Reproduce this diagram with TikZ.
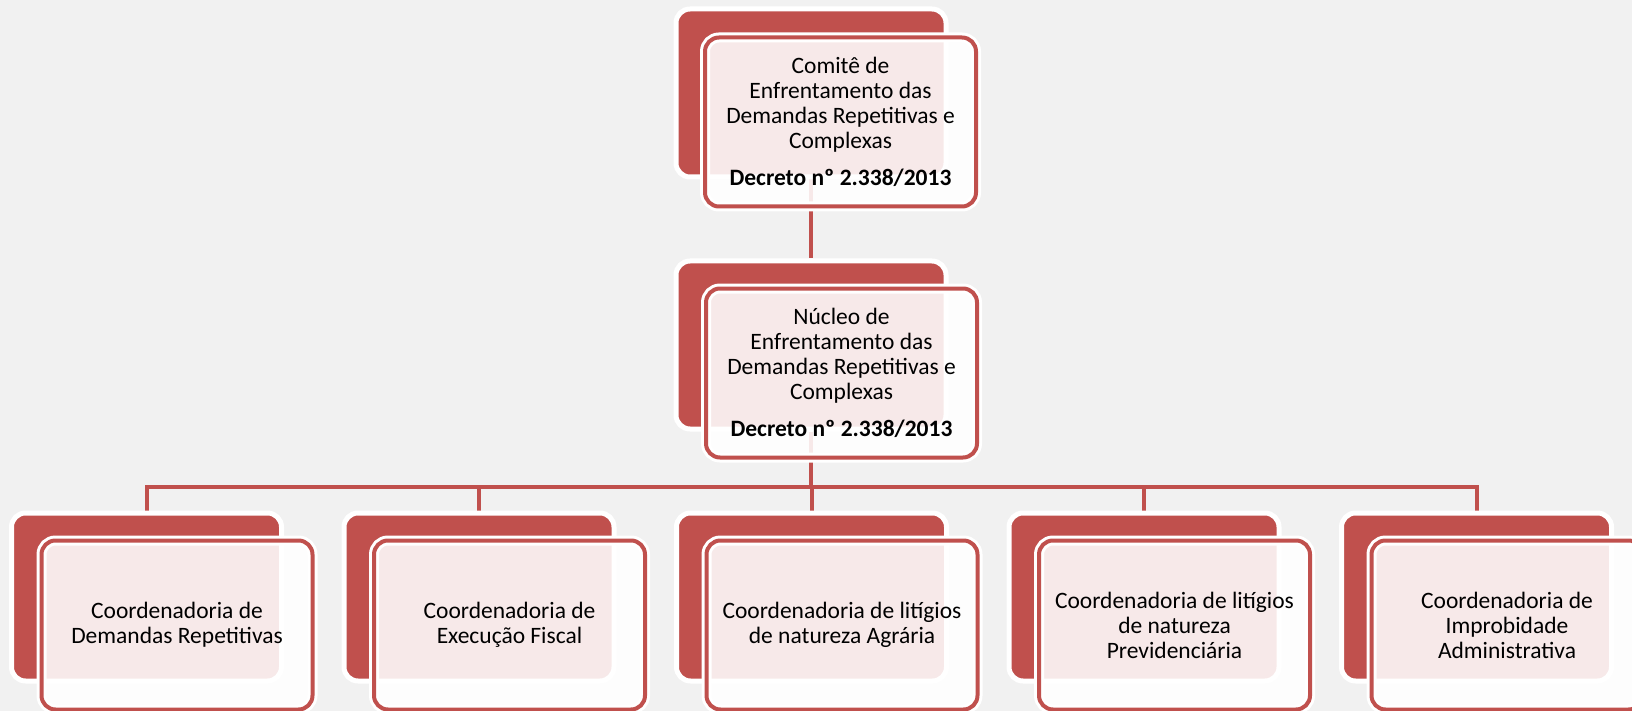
\documentclass[tikz,border=0pt]{standalone}
\usepackage{fontspec}
\setmainfont{Carlito}
\definecolor{redbox}{HTML}{C0504D}
\definecolor{paper}{HTML}{F1F1F1}
\pgfdeclarelayer{background}
\pgfsetlayers{background,main}
\begin{document}
\begin{tikzpicture}[x=1pt,y=-1pt,
  back/.style={rectangle,rounded corners=14pt,fill=redbox,draw=white,line width=5pt,minimum width=270pt,minimum height=168pt},
  front/.style={rectangle,rounded corners=14pt,fill=white,fill opacity=.88,text opacity=1,draw=redbox,line width=4pt,minimum width=271pt,minimum height=169pt,align=center,font=\fontsize{23.5}{25}\selectfont,preaction={draw=white,line width=10pt}},
  link/.style={draw=redbox,line width=4pt}]
\useasboundingbox (0,0) rectangle (1632,711);
\path
(811,93)     node[back] (comiteB) {}
(811,345)    node[back] (nucleoB) {}
(146.5,597)  node[back] (repetB) {}
(479,597)    node[back] (fiscalB) {}
(811.5,597)  node[back] (agrarB) {}
(1144,597)   node[back] (previdB) {}
(1476.5,597) node[back] (improbB) {};
\path
(840.5,122)  node[front] (comite) {Comitê de\\Enfrentamento das\\Demandas Repetitivas e\\Complexas\\[12pt]\textbf{Decreto nº 2.338/2013}}
(841.5,373)  node[front] (nucleo) {Núcleo de\\Enfrentamento das\\Demandas Repetitivas e\\Complexas\\[12pt]\textbf{Decreto nº 2.338/2013}}
(177,625)    node[front] (repet) {Coordenadoria de\\Demandas Repetitivas}
(509.5,625)  node[front] (fiscal) {Coordenadoria de\\Execução Fiscal}
(842,625)    node[front] (agrar) {Coordenadoria de litígios\\de natureza Agrária}
(1174.5,625) node[front] (previd) {Coordenadoria de litígios\\de natureza\\Previdenciária}
(1507,625)   node[front] (improb) {Coordenadoria de\\Improbidade\\Administrativa};
\coordinate (bus) at (811,487);
\begin{pgfonlayer}{background}
\fill[paper] (0,0) rectangle (1632,711);
\draw[link] (comiteB)--(nucleoB);
\draw[link] (nucleoB)--(bus);
\draw[link] (bus)-|(repetB);
\draw[link] (bus)-|(fiscalB);
\draw[link] (bus)-|(agrarB);
\draw[link] (bus)-|(previdB);
\draw[link] (bus)-|(improbB);
\end{pgfonlayer}
\end{tikzpicture}
\end{document}
